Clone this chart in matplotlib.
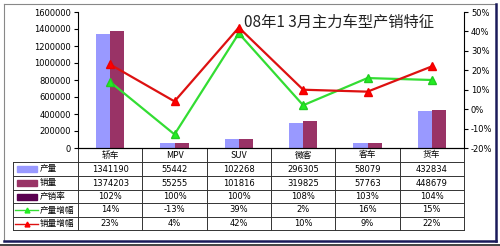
import numpy as np
import matplotlib
matplotlib.use("Agg")
import matplotlib.pyplot as plt
import matplotlib.transforms as mtransforms
from matplotlib.patches import Rectangle

plt.rcParams['font.family'] = ['Noto Sans CJK SC', 'DejaVu Sans']

categorias = ['轿车', 'MPV', 'SUV', '微客', '客车', '货车']
produccion = [1341190, 55442, 102268, 296305, 58079, 432834]
ventas = [1374203, 55255, 101816, 319825, 57763, 448679]
ratio_pv = [102, 100, 100, 108, 103, 104]
crec_prod = [14, -13, 39, 2, 16, 15]
crec_ventas = [23, 4, 42, 10, 9, 22]
titulo = '08年1 3月主力车型产销特征'

c_prod = '#9999FF'
c_ventas = '#993366'
c_ratio = '#5A0050'
c_verde = '#33DD33'
c_rojo = '#DD1111'

W, H = 500, 246
fig = plt.figure(figsize=(W / 100, H / 100), dpi=100)
fig.patch.set_facecolor('white')


def fx(px):
    return px / W


def fy(py):
    return 1 - py / H


# marco exterior
fig.add_artist(plt.Line2D([fx(4), fx(496)], [fy(4), fy(4)], color='#888888', lw=0.8))
fig.add_artist(plt.Line2D([fx(4), fx(4)], [fy(4), fy(241)], color='#888888', lw=0.8))
fig.add_artist(plt.Line2D([fx(496), fx(496)], [fy(4), fy(241)], color='#1a1a5a', lw=1.8))
fig.add_artist(plt.Line2D([fx(4), fx(496)], [fy(241), fy(241)], color='#1a1a5a', lw=1.8))
fig.add_artist(plt.Line2D([fx(0), fx(500)], [fy(244.5), fy(244.5)], color='#222222', lw=1.2))

x0, x1, y0, y1 = 78, 464, 12, 148
ax = fig.add_axes([fx(x0), fy(y1), fx(x1 - x0), (y1 - y0) / H])
ax2 = ax.twinx()

x = np.arange(len(categorias))
ancho = 0.22
ax.bar(x - ancho / 2, produccion, ancho, color=c_prod, zorder=2)
ax.bar(x + ancho / 2, ventas, ancho, color=c_ventas, zorder=2)
ax.set_xlim(-0.5, len(categorias) - 0.5)
ax.set_ylim(0, 1600000)
ax.set_yticks(np.arange(0, 1600001, 200000))
ax.set_yticklabels([str(v) for v in range(0, 1600001, 200000)], fontsize=6,
                   family=['DejaVu Sans'])
ax.set_xticks([])

ax2.plot(x, crec_prod, color=c_verde, lw=1.6, marker='^', ms=6,
         markerfacecolor='#22EE22', markeredgecolor='#22CC22', zorder=3)
ax2.plot(x, crec_ventas, color=c_rojo, lw=1.6, marker='^', ms=6,
         markerfacecolor='#FF0000', markeredgecolor='#EE0000', zorder=3)
ax2.set_ylim(-20, 50)
ax2.set_yticks(np.arange(-20, 51, 10))
ax2.set_yticklabels([f'{v}%' for v in range(-20, 51, 10)], fontsize=6,
                    family=['DejaVu Sans'])

for a in (ax, ax2):
    a.spines['top'].set_visible(False)
    a.spines['left'].set_linewidth(0.8)
    a.spines['right'].set_linewidth(0.8)
    a.spines['bottom'].set_linewidth(0.8)
    a.tick_params(length=3, width=0.8, pad=2)
ax.patch.set_visible(False)
ax2.spines['left'].set_visible(False)
ax.spines['right'].set_visible(False)

fig.text(fx(339), fy(22), titulo, fontsize=11, ha='center', va='center',
         color='#222222', fontweight='light')

# tabla de datos
tb = mtransforms.blended_transform_factory(ax.transData, fig.transFigure)
lc = '#333333'
filas = [162, 176, 190, 203, 217, 230]
for yy in filas:
    fig.add_artist(plt.Line2D([fx(13), fx(x1)], [fy(yy), fy(yy)], color=lc, lw=0.7))
fig.add_artist(plt.Line2D([fx(13), fx(13)], [fy(162), fy(230)], color=lc, lw=0.7))
for i in range(len(categorias) + 1):
    ax.add_artist(plt.Line2D([i - 0.5, i - 0.5], [fy(148), fy(230)], color=lc, lw=0.7,
                             transform=tb, clip_on=False))

for i, cat in enumerate(categorias):
    ax.text(i, fy(155), cat, transform=tb, ha='center', va='center', fontsize=6.3)

valores = [
    [str(v) for v in produccion],
    [str(v) for v in ventas],
    [f'{v}%' for v in ratio_pv],
    [f'{v}%' for v in crec_prod],
    [f'{v}%' for v in crec_ventas],
]
etiquetas = ['产量', '销量', '产销率', '产量增幅', '销量增幅']
for r, fila in enumerate(valores):
    yc = (filas[r] + filas[r + 1]) / 2
    for i, t in enumerate(fila):
        ax.text(i, fy(yc), t, transform=tb, ha='center', va='center', fontsize=6,
                family=['DejaVu Sans'])
    fig.text(fx(40), fy(yc), etiquetas[r], ha='left', va='center', fontsize=6.2)

# claves de leyenda
for r, col in enumerate([c_prod, c_ventas, c_ratio]):
    yc = (filas[r] + filas[r + 1]) / 2
    fig.add_artist(Rectangle((fx(17), fy(yc + 3)), fx(20), 6 / H, color=col))
for r, col, mc in [(3, c_verde, '#22EE22'), (4, c_rojo, '#FF0000')]:
    yc = (filas[r] + filas[r + 1]) / 2
    fig.add_artist(plt.Line2D([fx(15), fx(38)], [fy(yc), fy(yc)], color=col, lw=1))
    fig.add_artist(plt.Line2D([fx(26.5)], [fy(yc)], marker='^', ms=3.5, color=mc))

fig.savefig('out.png', dpi=100)
